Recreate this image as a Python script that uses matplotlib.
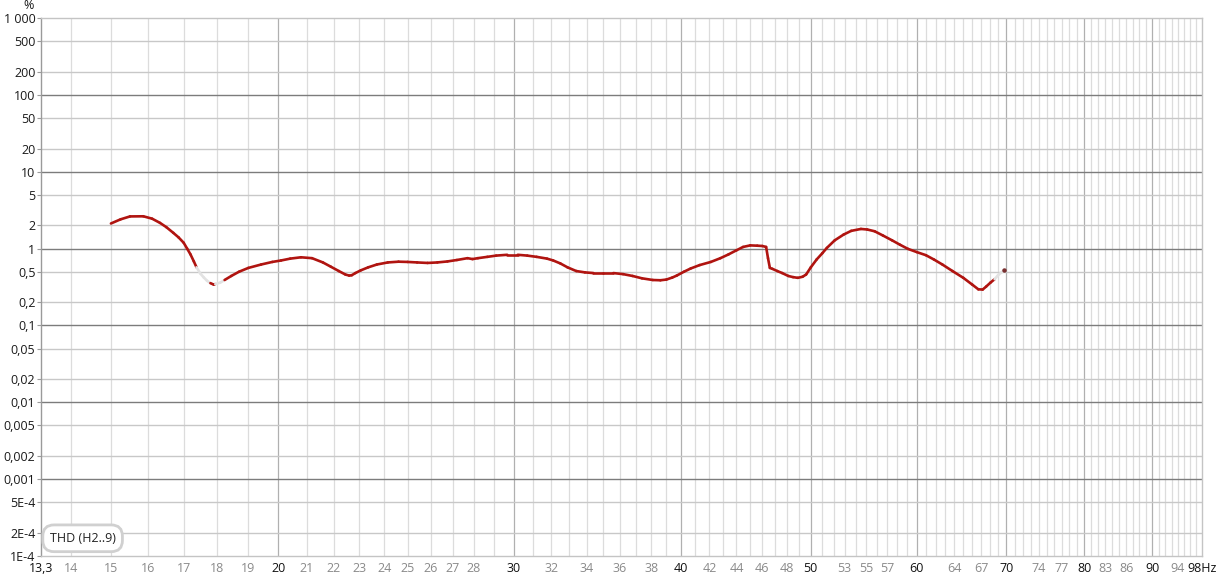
import matplotlib
matplotlib.use("Agg")
import matplotlib.pyplot as plt
import numpy as np
from matplotlib.collections import LineCollection

plt.rcParams['font.family'] = ['Open Sans', 'DejaVu Sans']

# ---------------- data ----------------
freq = [15.0, 15.25, 15.5, 15.86, 16.1, 16.32, 16.5, 16.7, 16.85, 17.0, 17.1, 17.2, 17.3, 17.38,
        17.5, 17.6, 17.7, 17.8, 17.9, 17.95, 18.1, 18.24,
        18.45, 18.7, 19.0, 19.42, 19.8, 20.1, 20.42, 20.8, 21.2, 21.6, 21.9, 22.2, 22.45, 22.6,
        22.7, 22.84, 23.05, 23.35, 23.7, 24.15, 24.6, 24.99, 25.4, 25.86, 26.3, 26.76, 27.2,
        27.7, 27.94, 28.2, 28.66, 29.1, 29.66, 30.2, 30.7, 31.2, 31.76, 32.1, 32.5, 32.9, 33.4,
        33.9, 34.4, 35.0, 35.6, 36.2, 36.8, 37.4, 38.1, 38.6, 39.0, 39.4, 39.7, 40.2, 40.66,
        41.3, 42.1, 42.8, 43.4, 44.0, 44.5, 45.05, 45.6, 46.0, 46.3, 46.45, 46.6, 46.8, 47.2,
        47.6, 48.1, 48.5, 48.9, 49.3, 49.6, 50.0, 50.5, 51.0, 51.4, 52.1, 52.9, 53.6, 54.5,
        55.1, 55.8, 56.6, 57.5, 58.3, 59.1, 60.0, 60.95, 61.8, 62.7, 63.8, 65.0, 66.0, 66.7,
        67.2, 67.6, 68.1, 68.6, 69.0, 69.4, 69.7]
thd = [2.12, 2.4, 2.62, 2.63, 2.45, 2.16, 1.9, 1.6, 1.4, 1.19, 1.0, 0.84, 0.68, 0.57,
       0.47, 0.42, 0.38, 0.355, 0.34, 0.345, 0.36, 0.39,
       0.44, 0.5, 0.56, 0.62, 0.67, 0.70, 0.74, 0.77, 0.75, 0.66, 0.58, 0.51, 0.46, 0.445,
       0.45, 0.48, 0.52, 0.57, 0.62, 0.66, 0.675, 0.67, 0.66, 0.65, 0.66, 0.68, 0.71,
       0.75, 0.73, 0.75, 0.78, 0.81, 0.83, 0.83, 0.81, 0.78, 0.74, 0.70, 0.64, 0.57, 0.51,
       0.49, 0.48, 0.48, 0.48, 0.465, 0.44, 0.41, 0.39, 0.387, 0.395, 0.42, 0.445, 0.5, 0.55,
       0.61, 0.67, 0.75, 0.84, 0.95, 1.05, 1.10, 1.09, 1.08, 1.05, 0.75, 0.56, 0.545, 0.51,
       0.48, 0.44, 0.425, 0.416, 0.43, 0.46, 0.57, 0.72, 0.87, 1.02, 1.28, 1.52, 1.70, 1.80,
       1.77, 1.68, 1.48, 1.28, 1.12, 0.99, 0.90, 0.82, 0.72, 0.62, 0.51, 0.416, 0.34, 0.295,
       0.293, 0.32, 0.36, 0.40, 0.45, 0.49, 0.52]
# measurement reliability per point (unreliable stretches drawn pale)
reliable = [True] * 14 + [False, False, False, True, True, True, False, True] + \
           [True] * (len(freq) - 22 - 3) + [False, False, False]

x_tick_vals = [13.3, 14, 15, 16, 17, 18, 19, 20, 21, 22, 23, 24, 25, 26, 27, 28, 30, 32, 34, 36,
               38, 40, 42, 44, 46, 48, 50, 53, 55, 57, 60, 64, 67, 70, 74, 77, 80, 83, 86, 90,
               94, 98]
x_tick_labels = ["13,3", "14", "15", "16", "17", "18", "19", "20", "21", "22", "23", "24", "25",
                 "26", "27", "28", "30", "32", "34", "36", "38", "40", "42", "44", "46", "48",
                 "50", "53", "55", "57", "60", "64", "67", "70", "74", "77", "80", "83", "86",
                 "90", "94", "98Hz"]
x_major_labels = ["13,3", "20", "30", "40", "50", "60", "70", "80", "90", "98Hz"]

y_tick_vals = [1000, 500, 200, 100, 50, 20, 10, 5, 2, 1, 0.5, 0.2, 0.1, 0.05, 0.02, 0.01,
               0.005, 0.002, 0.001, 5e-4, 2e-4, 1e-4]
y_tick_labels = ["1 000", "500", "200", "100", "50", "20", "10", "5", "2", "1", "0,5", "0,2",
                 "0,1", "0,05", "0,02", "0,01", "0,005", "0,002", "0,001", "5E-4", "2E-4", "1E-4"]

series_name = "THD (H2..9)"

# ---------------- figure ----------------
W, H = 1221, 580
fig = plt.figure(figsize=(W / 100, H / 100), dpi=100)
ax = fig.add_axes([41 / W, 1 - 556 / H, (1202 - 41) / W, (556 - 18) / H])
ax.set_xscale('log')
ax.set_yscale('log')
ax.set_xlim(13.3, 98)
ax.set_ylim(1e-4, 1000)

# grid
minor_x = np.arange(14, 98)
for v in minor_x:
    c = '#b0b0b0' if v % 10 == 0 else '#dcdcdc'
    ax.axvline(v, color=c, lw=0.9, zorder=0)
for v in y_tick_vals:
    if v in (1000, 1e-4):
        continue
    dec = abs(np.log10(v) - round(np.log10(v))) < 1e-9
    ax.axhline(v, color='#7c7c7c' if dec else '#c8c8c8', lw=1.0, zorder=0)

ax.spines['left'].set_color('#9a9a9a')
for s in ['top', 'right', 'bottom']:
    ax.spines[s].set_color('#c4c4c4')
for s in ax.spines.values():
    s.set_linewidth(1.0)

# ticks
ax.xaxis.set_minor_locator(matplotlib.ticker.NullLocator())
ax.yaxis.set_minor_locator(matplotlib.ticker.NullLocator())
ax.set_xticks(x_tick_vals)
ax.set_xticklabels(x_tick_labels, fontsize=9)
ax.set_yticks(y_tick_vals)
ax.set_yticklabels(y_tick_labels, fontsize=9, color='#1a1a1a')
ax.tick_params(axis='x', length=0, pad=4)
ax.tick_params(axis='y', length=3, color='#9a9a9a', pad=1)
for lbl in ax.get_xticklabels():
    lbl.set_color('#111111' if lbl.get_text() in x_major_labels else '#8a8a8a')

ax.text(-0.006, 1.012, "%", transform=ax.transAxes, ha='right', va='bottom', fontsize=9,
        color='#1a1a1a')

# curve
fx = np.array(freq)
fy = np.array(thd)
pts = np.column_stack([fx, fy])
segs = [pts[i:i + 2] for i in range(len(pts) - 1)]
cols = ['#b01410' if (reliable[i] and reliable[i + 1]) else '#e2e2e2' for i in range(len(pts) - 1)]
lc = LineCollection(segs, colors=cols, linewidths=1.9, capstyle='round', joinstyle='round',
                    zorder=3)
ax.add_collection(lc)
ax.plot([fx[-1]], [fy[-1]], 'o', ms=2.2, color='#7a3030', zorder=4)

# legend label
ax.text(13.5, 1.7e-4, series_name, fontsize=9, color='#222222', ha='left', va='center',
        bbox=dict(boxstyle='round,pad=0.55,rounding_size=0.9', fc='white', ec='#d0d0d0', lw=2),
        zorder=5)

fig.savefig('out.png', dpi=100)
